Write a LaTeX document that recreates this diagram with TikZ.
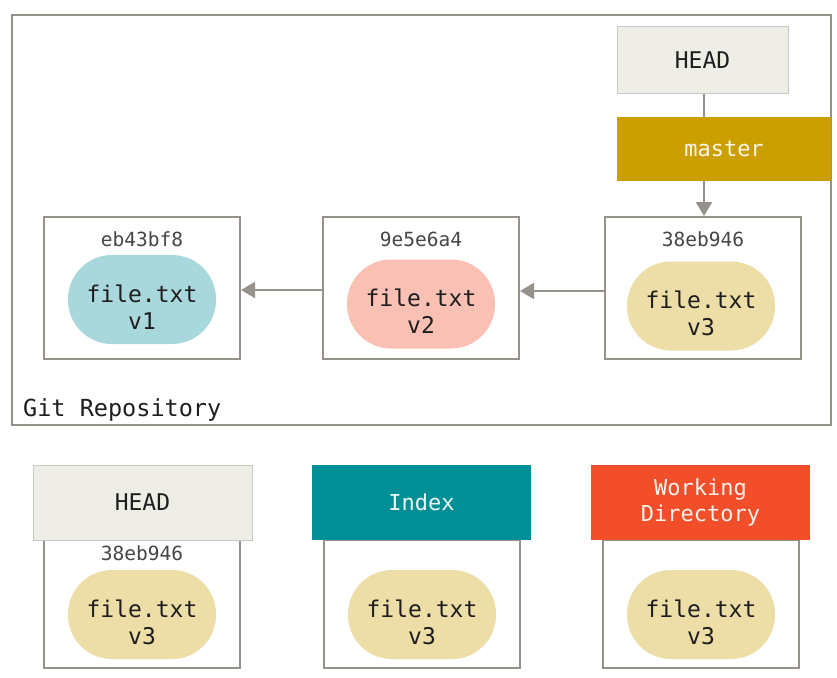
\documentclass[tikz,border=0pt]{standalone}
\usepackage{fontspec}
\setmonofont{DejaVu Sans Mono}
\usetikzlibrary{arrows.meta}
\definecolor{linegray}{RGB}{150,145,138}
\definecolor{headfill}{RGB}{238,238,230}
\definecolor{headline}{RGB}{200,200,194}
\definecolor{masterc}{RGB}{204,159,0}
\definecolor{indexc}{RGB}{0,143,149}
\definecolor{workc}{RGB}{242,78,42}
\definecolor{bluev}{RGB}{168,216,220}
\definecolor{pinkv}{RGB}{251,192,180}
\definecolor{yellv}{RGB}{237,221,166}
\definecolor{txt}{RGB}{30,30,30}
\definecolor{hashc}{RGB}{70,70,70}
\tikzset{
  commitbox/.style={draw=linegray, line width=2pt, fill=white, minimum width=196pt, inner sep=0pt},
  blob/.style={rounded corners=44pt, minimum width=148pt, minimum height=89pt, inner sep=0pt},
  blobtext/.style={inner sep=0pt, align=center, font=\fontsize{23}{27}\selectfont\ttfamily, text=txt},
  hash/.style={font=\fontsize{19.5}{22}\selectfont\ttfamily, text=hashc, inner sep=0pt},
  header/.style={minimum width=219pt, minimum height=75pt, inner sep=0pt, align=center,
    font=\fontsize{22}{26}\selectfont\ttfamily},
  conn/.style={draw=linegray, line width=2pt},
  arr/.style={conn, -{Triangle[width=16pt,length=14pt]}}
}
\begin{document}
\begin{tikzpicture}[x=1pt,y=-1pt]
\useasboundingbox (0,0) rectangle (837,677);
% repository
\draw[draw=linegray, line width=2pt] (12,15) rectangle (831,425);
\node[anchor=west, font=\fontsize{23.5}{26}\selectfont\ttfamily, text=txt, inner sep=0pt] (repo) at (23,410) {Git Repository};
% top head and master
\node[draw=headline, line width=1pt, fill=headfill, minimum width=171pt, minimum height=66pt, inner sep=0pt,
  font=\fontsize{23}{26}\selectfont\ttfamily, text=txt] (head) at (702.5,60) {HEAD};
\node[fill=masterc, minimum width=214pt, minimum height=64pt, inner sep=0pt,
  font=\fontsize{22}{26}\selectfont\ttfamily, text=white!92!masterc] (master) at (724,149) {master};
% commits
\node[commitbox, minimum height=142pt] (c1) at (142,288) {};
\node[commitbox, minimum height=142pt] (c2) at (421,288) {};
\node[commitbox, minimum height=142pt] (c3) at (703,288) {};
\node[hash] (h1) at (142,239) {eb43bf8};
\node[hash] (h2) at (421,239) {9e5e6a4};
\node[hash] (h3) at (703,239) {38eb946};
\node[blob, fill=bluev] (b1) at (142,299.5) {};
\node[blob, fill=pinkv] (b2) at (421,304) {};
\node[blob, fill=yellv] (b3) at (701,306) {};
\node[blobtext] (t1) at (142,307) {file.txt\\v1};
\node[blobtext] (t2) at (421,311) {file.txt\\v2};
\node[blobtext] (t3) at (701,313) {file.txt\\v3};
% connectors
\draw[conn] (head.south -| 704,0) -- (master.north -| 704,0);
\draw[arr] (master.south -| 704,0) -- (c3.north -| 704,0);
\draw[arr] (c2.west |- 0,290) -- (c1.east |- 0,290);
\draw[arr] (c3.west |- 0,291) -- (c2.east |- 0,291);
% bottom
\node[commitbox, minimum height=128pt] (bh) at (142,604) {};
\node[commitbox, minimum height=128pt] (bi) at (422,604) {};
\node[commitbox, minimum height=128pt] (bw) at (701,604) {};
\node[header, fill=headfill, draw=headline, line width=1pt, text=txt, font=\fontsize{23}{26}\selectfont\ttfamily] (hh) at (142.5,502.5) {HEAD};
\node[header, fill=indexc, text=white!92!indexc] (hi) at (421.5,502.5) {Index};
\node[header, fill=workc, text=white!92!workc] (hw) at (700.5,502.5) {Working\\Directory};
\node[hash] (hb) at (142,553) {38eb946};
\node[blob, fill=yellv] (bb1) at (142,614.5) {};
\node[blob, fill=yellv] (bb2) at (422,614.5) {};
\node[blob, fill=yellv] (bb3) at (701,614.5) {};
\node[blobtext] (bt1) at (142,622) {file.txt\\v3};
\node[blobtext] (bt2) at (422,622) {file.txt\\v3};
\node[blobtext] (bt3) at (701,622) {file.txt\\v3};
\end{tikzpicture}
\end{document}
